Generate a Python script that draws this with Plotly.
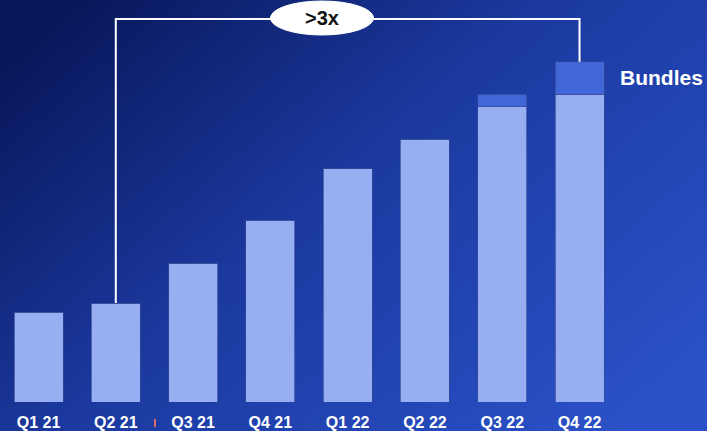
import base64
import plotly.graph_objects as go

# Quarterly volume index (Q1 21 = 100), split into core and bundles
quarters = ["Q1 21", "Q2 21", "Q3 21", "Q4 21", "Q1 22", "Q2 22", "Q3 22", "Q4 22"]
core = [100, 110, 154, 202, 259, 292, 328, 342]
bundles = [0, 0, 0, 0, 0, 0, 14, 36]
growth_label = ">3x"
bundles_label = "Bundles"

totals = [c + b for c, b in zip(core, bundles)]
xs = list(range(len(quarters)))

FONT = "Arial, 'Liberation Sans', Helvetica, sans-serif"
W, H = 707, 431
M_BOTTOM = 29
PLOT_H = H - M_BOTTOM

# blue diagonal backdrop as an inline SVG
svg = f"""<svg xmlns='http://www.w3.org/2000/svg' width='{W}' height='{H}'>
<defs><linearGradient id='g' x1='0' y1='0.15' x2='1' y2='0.85'>
<stop offset='0' stop-color='#08175a'/>
<stop offset='0.45' stop-color='#1b399f'/>
<stop offset='1' stop-color='#2b52c8'/>
</linearGradient></defs>
<rect width='{W}' height='{H}' fill='url(#g)'/></svg>"""
bg_src = "data:image/svg+xml;base64," + base64.b64encode(svg.encode()).decode()

fig = go.Figure()
fig.add_trace(go.Bar(
    x=xs, y=core, name="Core",
    marker=dict(color="#97aef3", line=dict(color="rgba(50,70,150,0.7)", width=1)),
    hoverinfo="skip",
))
fig.add_trace(go.Bar(
    x=xs, y=bundles, name=bundles_label,
    marker=dict(color="#4066d8", line=dict(color="rgba(50,70,150,0.7)", width=1)),
    hoverinfo="skip",
))

# axis scale: 77.3 px per category, 0.9 px per index point
px_per_cat = 77.29
x0 = -38.5 / px_per_cat
x1 = x0 + W / px_per_cat
y_top = PLOT_H / 0.9

# bracket from Q2 21 to Q4 22
bracket_y = (PLOT_H - 19) / 0.9
fig.add_shape(type="path",
              path=f"M 1,{totals[1]} L 1,{bracket_y} L 7,{bracket_y} L 7,{totals[7]}",
              xref="x", yref="y", line=dict(color="white", width=2))
oval_cx = (322 - 38.5) / px_per_cat
fig.add_shape(type="circle", xref="x", yref="y",
              x0=oval_cx - 0.667, x1=oval_cx + 0.667,
              y0=(PLOT_H - 35) / 0.9, y1=(PLOT_H - 1) / 0.9,
              fillcolor="white", line=dict(color="white", width=1))
fig.add_annotation(x=oval_cx, y=(PLOT_H - 18) / 0.9, xref="x", yref="y",
                   text=f"<b>{growth_label}</b>", showarrow=False,
                   font=dict(family=FONT, size=20, color="#111111"))

# series label beside the last bar
fig.add_annotation(x=7.5, y=totals[7] - 16 / 0.9, xref="x", yref="y",
                   xanchor="left", yanchor="middle",
                   text=f"<b>{bundles_label}</b>", showarrow=False,
                   font=dict(family=FONT, size=21, color="white"))

# small red marker between Q2 21 and Q3 21 labels
fig.add_shape(type="line", xref="x", yref="paper",
              x0=1.507, x1=1.507, y0=-17 / PLOT_H, y1=-25 / PLOT_H,
              line=dict(color="#e06a6a", width=2))

fig.update_layout(
    width=W, height=H,
    margin=dict(l=0, r=0, t=0, b=M_BOTTOM, pad=0),
    barmode="stack", bargap=0.366,
    showlegend=False,
    paper_bgcolor="#1b399f", plot_bgcolor="rgba(0,0,0,0)",
    images=[dict(source=bg_src, xref="paper", yref="paper", x=0, y=1,
                 sizex=1, sizey=H / PLOT_H, sizing="stretch",
                 xanchor="left", yanchor="top", layer="below")],
    xaxis=dict(range=[x0, x1], tickvals=xs,
               ticktext=[f"<b>{q}</b>" for q in quarters],
               tickfont=dict(family=FONT, size=16, color="white"),
               showgrid=False, zeroline=False, showline=False, ticks="",
               ticklabelstandoff=9, fixedrange=True),
    yaxis=dict(range=[0, y_top], visible=False, showgrid=False, fixedrange=True),
    font=dict(family=FONT),
)

fig.write_html("out.html", config={"displayModeBar": False})
